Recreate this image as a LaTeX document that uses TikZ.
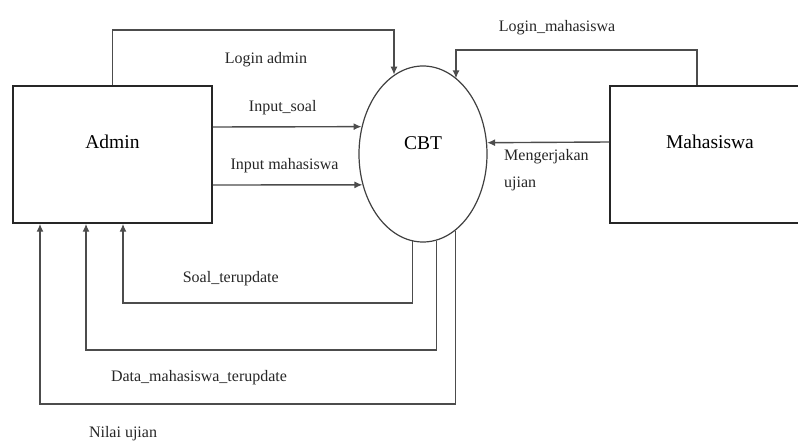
\documentclass[tikz,border=0pt]{standalone}
\usepackage{fontspec}
\setmainfont{Liberation Serif}
\usetikzlibrary{shapes.geometric, arrows.meta}

\begin{document}
\begin{tikzpicture}[x=1pt, y=-1pt,
        entity/.style = {draw=black!85, line width=1.5pt, rectangle, minimum width=199pt, minimum height=137pt, font=\fontsize{19.5}{22}\selectfont, text depth=25pt},
        proc/.style = {draw=black!75, line width=1.2pt, ellipse, inner sep=0pt, minimum width=128pt, minimum height=176pt, font=\fontsize{19.5}{22}\selectfont, text depth=22pt},
        flow/.style = {-{Latex[length=8pt, width=7pt]}, draw=black!70, line width=1.4pt},
        lbl/.style = {font=\fontsize{16}{26.5}\selectfont, inner sep=0pt, text=black!85}]
                \useasboundingbox (0,0) rectangle (798,443);
                \clip (0,0) rectangle (798,443);

                \node[entity] (admin) at (112.5,154.5) {Admin};
                \node[entity, minimum width=200pt] (mhs) at (710,154.5) {Mahasiswa};
                \node[proc] (cbt) at (423,154) {CBT};

                \coordinate (la) at (394,30);
                \coordinate (lmx) at (697,0);
                \coordinate (lm) at (456,50);
                \coordinate (r1) at (123,303);
                \coordinate (r2) at (86,350);
                \coordinate (r3) at (40,404);

                \draw[flow] (admin.north) |- (la) -- (la |- cbt.110.4);
                \draw[flow] (mhs.north -| lmx) |- (lm) -- (lm |- cbt.66.4);
                \draw[flow] ([yshift=27.5pt]admin.east) -- (cbt.156.1);
                \draw[flow] ([yshift=-30.5pt]admin.east) -- (cbt.207.4);
                \draw[flow] ([yshift=12.5pt]mhs.west) -- (cbt.10.7);
                \draw[flow] (cbt.263.4) |- (r1) -- (admin.south -| r1);
                \draw[flow] (cbt.279.3) |- (r2) -- (admin.south -| r2);
                \draw[flow] (cbt.293.6) |- (r3) -- (admin.south -| r3);

                \node[lbl, anchor=base] (t-login-admin) at (266,63.5) {Login admin};
                \node[lbl, anchor=base] (t-login-mhs) at (557,32) {Login\_mahasiswa};
                \node[lbl, anchor=base] (t-input-soal) at (282.7,111.7) {Input\_soal};
                \node[lbl, anchor=base] (t-input-mhs) at (284.5,170) {Input mahasiswa};
                \node[lbl, anchor=base west, align=left] (t-kerja) at (504,187.5) {Mengerjakan\\ujian};
                \node[lbl, anchor=base] (t-soal-upd) at (230.8,283) {Soal\_terupdate};
                \node[lbl, anchor=base] (t-data-upd) at (199,381.7) {Data\_mahasiswa\_terupdate};
                \node[lbl, anchor=base] (t-nilai) at (123,437.5) {Nilai ujian};

            \end{tikzpicture}
\end{document}
